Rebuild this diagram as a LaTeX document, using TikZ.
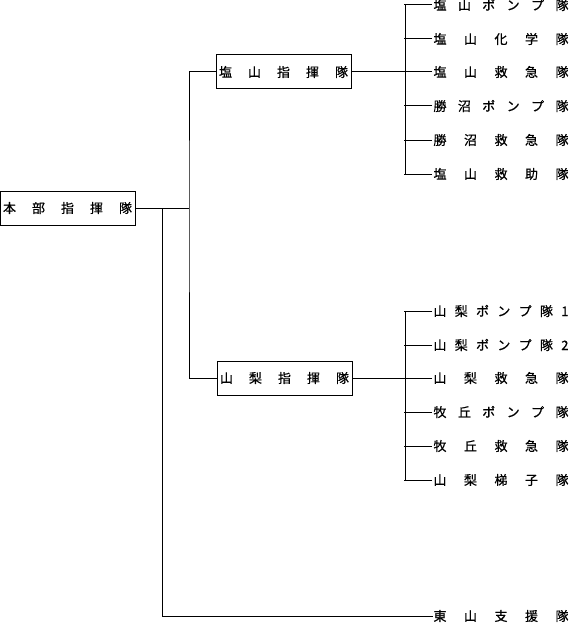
\documentclass[tikz,border=0pt]{standalone}
\usepackage{fontspec}
\newfontfamily\jp[FakeBold=0.6]{Noto Sans CJK JP}
\newcommand{\spr}[2]{\makebox[#1pt]{#2}}
\begin{document}
\begin{tikzpicture}[x=1pt,y=-1pt,line width=1pt,
  box/.style={draw,rectangle,minimum width=135pt,minimum height=34pt,inner sep=0pt,font=\jp\fontsize{13}{13}\selectfont},
  lbl/.style={anchor=west,inner sep=0pt,font=\jp\fontsize{13}{13}\selectfont}]
\useasboundingbox (0,0) rectangle (568,623);
% boxes
\node[box] (hq) at (67.5,208) {\spr{129}{本\hfill 部\hfill 指\hfill 揮\hfill 隊}};
\node[box] (s) at (283.5,72) {\spr{129}{塩\hfill 山\hfill 指\hfill 揮\hfill 隊}};
\node[box] (y) at (284.5,378) {\spr{129}{山\hfill 梨\hfill 指\hfill 揮\hfill 隊}};
% junction coordinates
\coordinate (ja) at (189,208);
\coordinate (jb) at (162,208);
\coordinate (sj) at (405,72);
\coordinate (yj) at (405,378);
% children of Shioyama
\node[lbl] (s1) at (433,5) {\spr{135}{塩\hfill 山\hfill ポ\hfill ン\hfill プ\hfill 隊}};
\node[lbl] (s2) at (433,39) {\spr{135}{塩\hfill 山\hfill 化\hfill 学\hfill 隊}};
\node[lbl] (s3) at (433,72) {\spr{135}{塩\hfill 山\hfill 救\hfill 急\hfill 隊}};
\node[lbl] (s4) at (433,106) {\spr{135}{勝\hfill 沼\hfill ポ\hfill ン\hfill プ\hfill 隊}};
\node[lbl] (s5) at (433,140) {\spr{135}{勝\hfill 沼\hfill 救\hfill 急\hfill 隊}};
\node[lbl] (s6) at (433,174) {\spr{135}{塩\hfill 山\hfill 救\hfill 助\hfill 隊}};
% children of Yamanashi
\node[lbl] (y1) at (433,311) {\spr{135}{山\hfill 梨\hfill ポ\hfill ン\hfill プ\hfill 隊\hfill 1}};
\node[lbl] (y2) at (433,345) {\spr{135}{山\hfill 梨\hfill ポ\hfill ン\hfill プ\hfill 隊\hfill 2}};
\node[lbl] (y3) at (433,378) {\spr{135}{山\hfill 梨\hfill 救\hfill 急\hfill 隊}};
\node[lbl] (y4) at (433,412) {\spr{135}{牧\hfill 丘\hfill ポ\hfill ン\hfill プ\hfill 隊}};
\node[lbl] (y5) at (433,446) {\spr{135}{牧\hfill 丘\hfill 救\hfill 急\hfill 隊}};
\node[lbl] (y6) at (433,480) {\spr{135}{山\hfill 梨\hfill 梯\hfill 子\hfill 隊}};
% support
\node[lbl] (h) at (433,616) {\spr{135}{東\hfill 山\hfill 支\hfill 援\hfill 隊}};
% connectors
\draw (hq.east) -- (ja);
\draw (s.west) -| (ja) |- (y.west);
\draw (jb) |- (h.west);
\draw (s.east) -- (sj);
\draw (y.east) -- (yj);
\foreach \n in {s1,s2,s3,s4,s5,s6,y1,y2,y3,y4,y5,y6}{
  \draw ([xshift=-1pt]\n.west) -- ++(-28,0);
}
\draw (s1.west -| sj) -- (s6.west -| sj);
\draw (y1.west -| yj) -- (y6.west -| yj);
\end{tikzpicture}
\end{document}
